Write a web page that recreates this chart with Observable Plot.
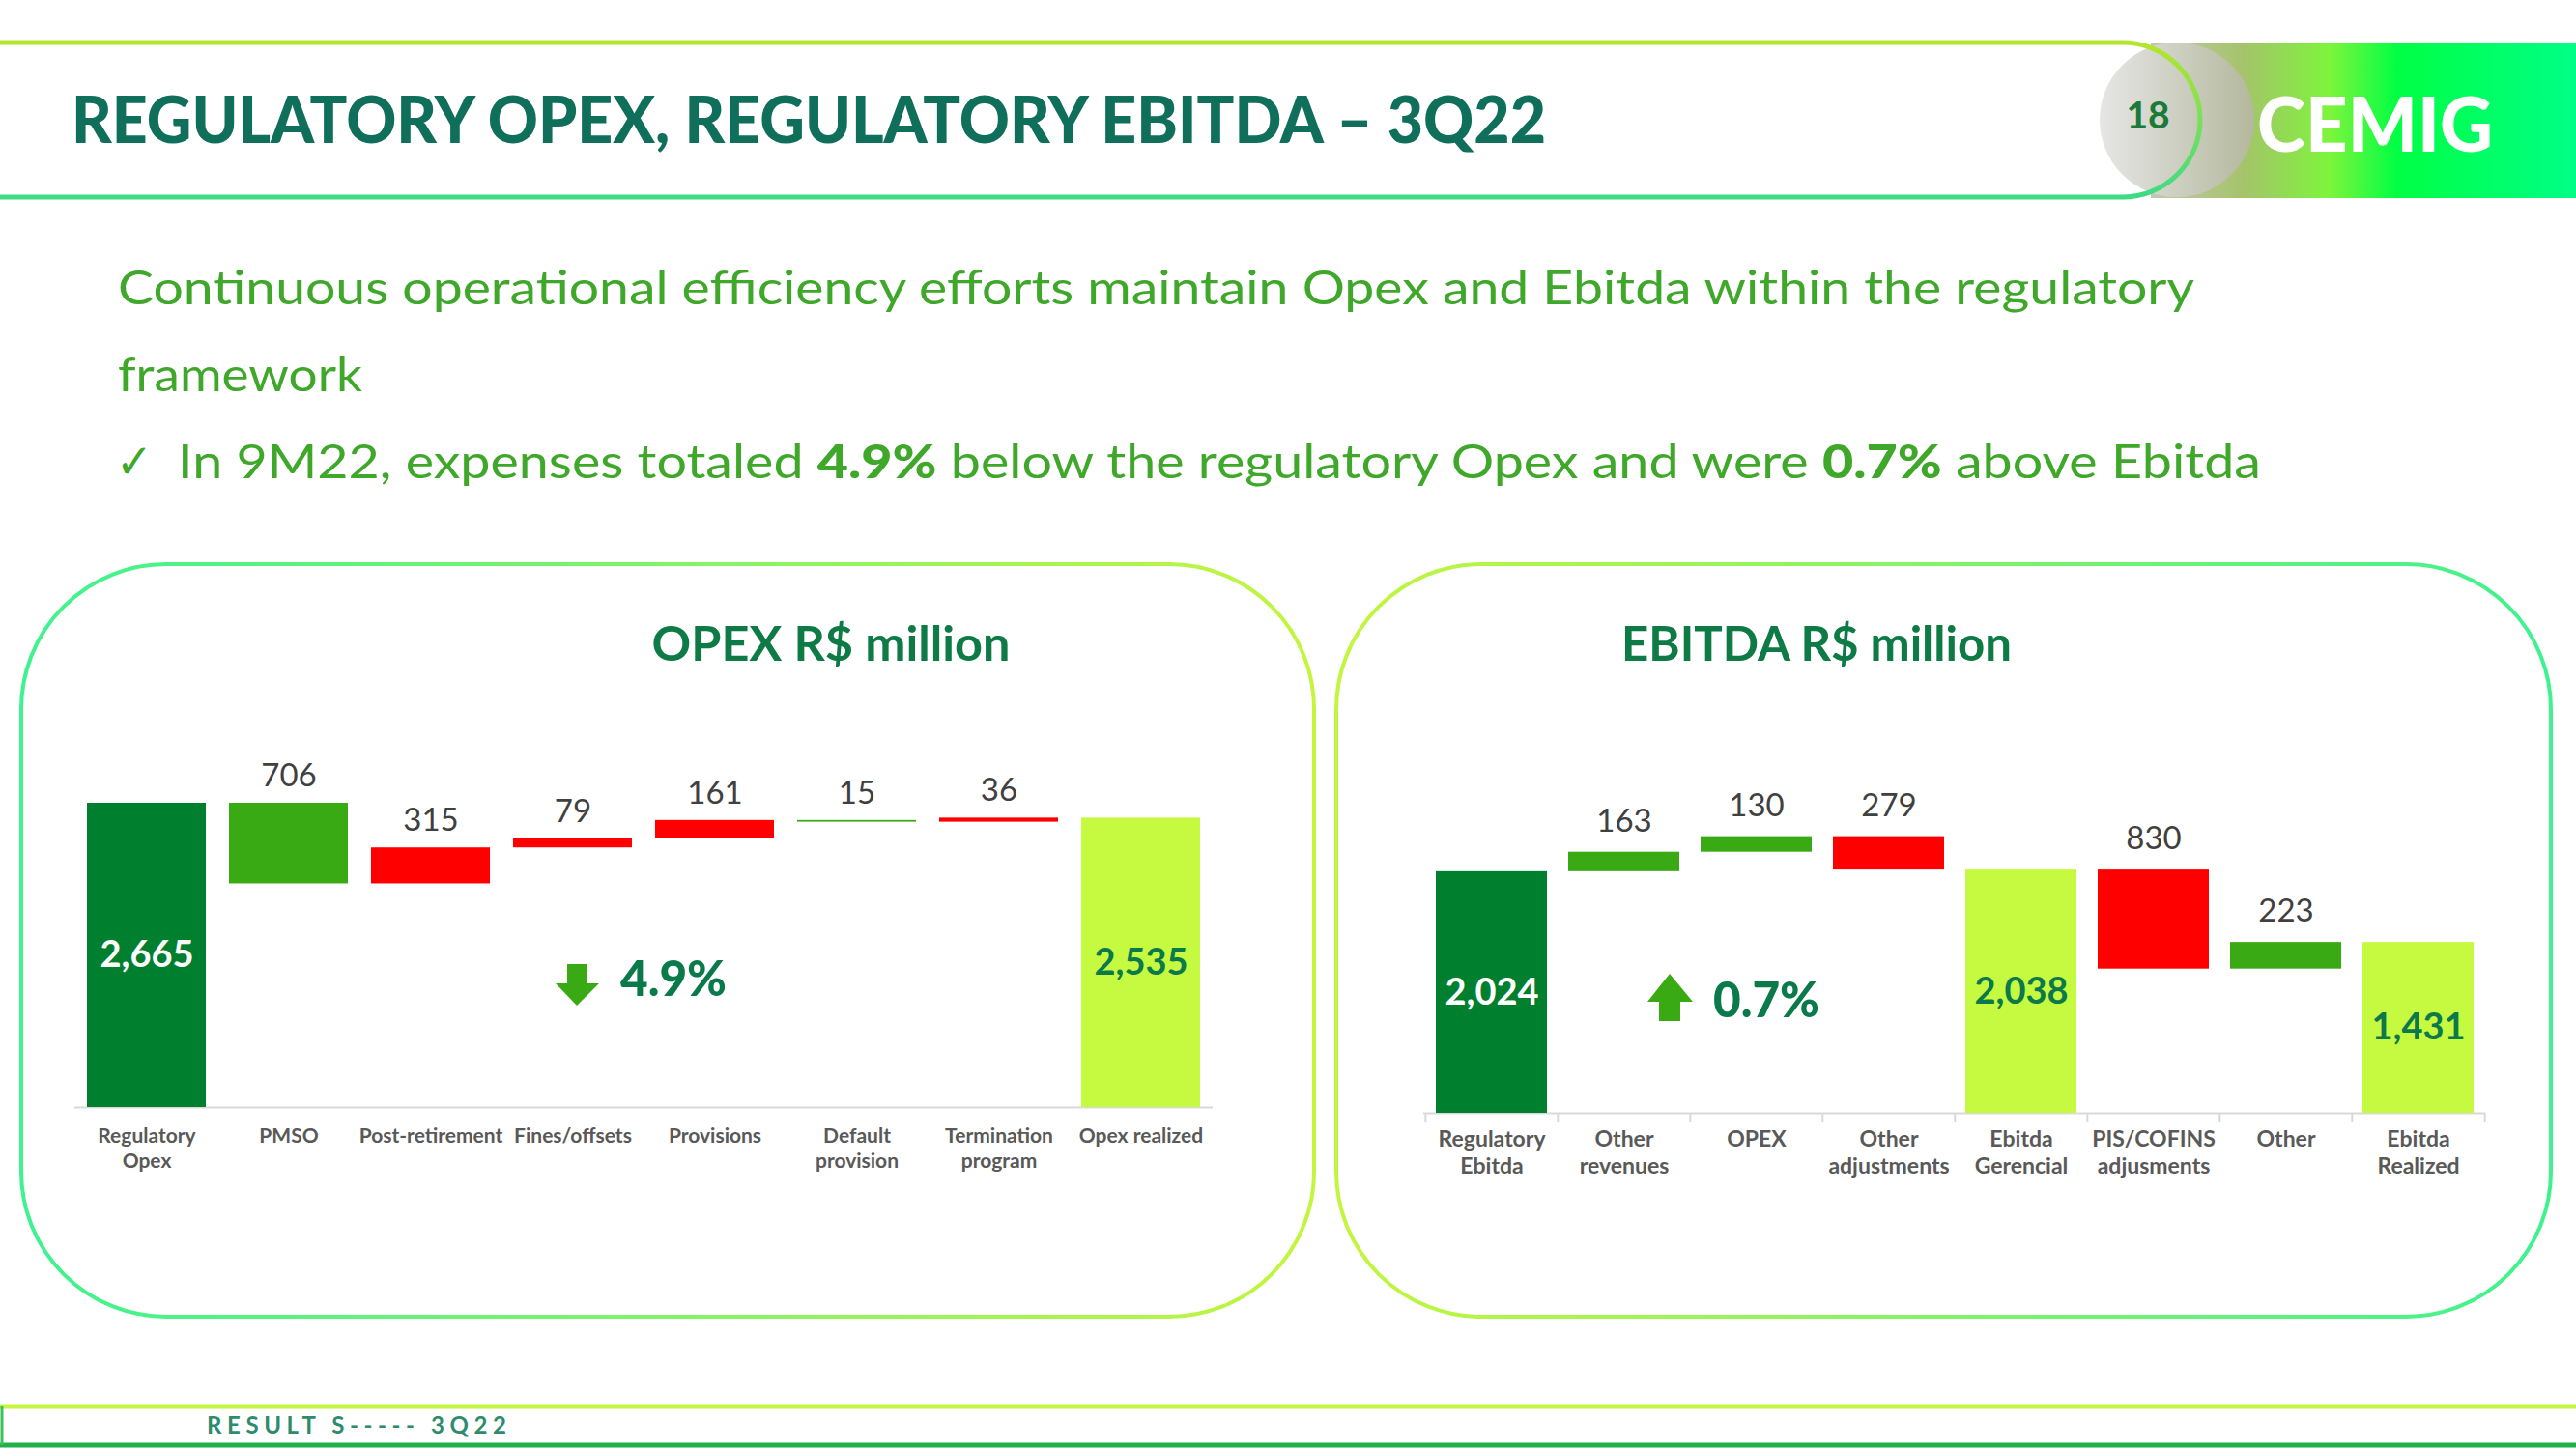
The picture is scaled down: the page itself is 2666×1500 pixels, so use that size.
<!DOCTYPE html>
<html><head><meta charset="utf-8">
<script src="https://cdn.jsdelivr.net/npm/d3@7"></script>
<script src="https://cdn.jsdelivr.net/npm/@observablehq/plot@0.6"></script>
<style>
html,body{margin:0;padding:0;background:#fff;}
#page{position:relative;width:2666px;height:1500px;overflow:hidden;background:#fff;font-family:Lato,sans-serif;}
#deco{position:absolute;left:0;top:0;}
.chart{position:absolute;}
</style></head><body>
<div id="page">
<svg id="deco" width="2666" height="1500" xmlns="http://www.w3.org/2000/svg">
  <defs>
    <linearGradient id="hdrStroke" x1="0" y1="44" x2="0" y2="204" gradientUnits="userSpaceOnUse">
      <stop offset="0" stop-color="#B5E52C"/><stop offset="1" stop-color="#3EDB84"/>
    </linearGradient>
    <linearGradient id="band" x1="0" x2="1" y1="0" y2="0">
      <stop offset="0" stop-color="#c4c6b4"/>
      <stop offset="0.22" stop-color="#a4c46a"/>
      <stop offset="0.42" stop-color="#7ef43c"/>
      <stop offset="0.58" stop-color="#00ff44"/>
      <stop offset="1" stop-color="#00ff86"/>
    </linearGradient>
    <linearGradient id="disc" x1="0" x2="1" y1="0" y2="0">
      <stop offset="0" stop-color="#e6e6e6"/><stop offset="1" stop-color="#b4b89c"/>
    </linearGradient>
    <linearGradient id="panelL" x1="20" x2="1362" y1="0" y2="0" gradientUnits="userSpaceOnUse">
      <stop offset="0" stop-color="#3EF290"/><stop offset="1" stop-color="#C4F53E"/>
    </linearGradient>
    <linearGradient id="panelR" x1="1383" x2="2640" y1="0" y2="0" gradientUnits="userSpaceOnUse">
      <stop offset="0" stop-color="#C4F53E"/><stop offset="1" stop-color="#3EF290"/>
    </linearGradient>
  </defs>
  <!-- header -->
  <rect x="2226" y="44" width="440" height="161" fill="url(#band)"/>
  <path d="M-10,44 H2197 A80,80 0 0 1 2197,204 H-10 Z" fill="#ffffff"/>
  <circle cx="2253" cy="124" r="80" fill="url(#disc)"/>
  <path d="M-10,44 H2197 A80,80 0 0 1 2197,204 H-10" fill="none" stroke="url(#hdrStroke)" stroke-width="5"/>
  <text x="74" y="148" font-family="Lato" font-weight="900" font-size="66" fill="#106F5A" textLength="1526" lengthAdjust="spacingAndGlyphs">REGULATORY OPEX, REGULATORY EBITDA – 3Q22</text>
  <text x="2223" y="133" text-anchor="middle" font-family="Lato" font-weight="bold" font-size="39" fill="#1B7A3A">18</text>
  <text x="2336" y="157" font-family="Lato" font-weight="900" font-size="78" fill="#ffffff" textLength="244" lengthAdjust="spacingAndGlyphs">CEMIG</text>
  <!-- subtitle -->
  <text x="122" y="315" font-family="Lato" font-size="48" fill="#3FA82A" textLength="2149" lengthAdjust="spacingAndGlyphs">Continuous operational efficiency efforts maintain Opex and Ebitda within the regulatory</text>
  <text x="122" y="405" font-family="Lato" font-size="48" fill="#3FA82A" textLength="253" lengthAdjust="spacingAndGlyphs">framework</text>
  <text x="120" y="495" font-family="DejaVu Sans" font-size="50" fill="#3FA82A" textLength="38" lengthAdjust="spacingAndGlyphs">✓</text>
  <text x="184" y="495" font-family="Lato" font-size="48" fill="#3FA82A" textLength="2156" lengthAdjust="spacingAndGlyphs">In 9M22, expenses totaled <tspan font-weight="900" id="pctOpexTxt"></tspan>  below the regulatory Opex and were <tspan font-weight="900" id="pctEbitdaTxt"></tspan> above Ebitda</text>
  <!-- panels -->
  <rect x="22" y="584" width="1338" height="779" rx="150" ry="150" fill="#ffffff" stroke="url(#panelL)" stroke-width="4"/>
  <rect x="1383" y="584" width="1257" height="779" rx="150" ry="150" fill="#ffffff" stroke="url(#panelR)" stroke-width="4"/>
  <text x="860" y="684" text-anchor="middle" font-family="Lato" font-weight="bold" font-size="50" fill="#0E7B47" textLength="371" lengthAdjust="spacingAndGlyphs">OPEX R$ million</text>
  <text x="1880" y="684" text-anchor="middle" font-family="Lato" font-weight="bold" font-size="50" fill="#0E7B47" textLength="404" lengthAdjust="spacingAndGlyphs">EBITDA R$ million</text>
  <!-- annotations -->
  <path d="M587,998 H608 V1018 H620 L597,1041 L575,1018 H587 Z" fill="#3AAA14"/>
  <text id="pctOpex" x="642" y="1031" font-family="Lato" font-weight="900" font-size="52" fill="#0B7A4B" textLength="110" lengthAdjust="spacingAndGlyphs"></text>
  <path d="M1728,1008 L1752,1037 H1739 V1057 H1717 V1037 H1705 Z" fill="#3AAA14"/>
  <text id="pctEbitda" x="1773" y="1053" font-family="Lato" font-weight="900" font-size="52" fill="#0B7A4B" textLength="110" lengthAdjust="spacingAndGlyphs"></text>
  <!-- footer -->
  <rect x="1" y="1456" width="2664" height="40" fill="#ffffff" stroke="none"/>
  <line x1="0" x2="2666" y1="1456" y2="1456" stroke="#C6F542" stroke-width="5"/>
  <line x1="0" x2="2666" y1="1496" y2="1496" stroke="#22B04A" stroke-width="5"/>
  <line x1="2" x2="2" y1="1456" y2="1496" stroke="#3CC05A" stroke-width="3"/>
  <text x="214" y="1484" font-family="Lato" font-weight="bold" font-size="24" fill="#2E8B6E" textLength="310" lengthAdjust="spacing">RESULT S----- 3Q22</text>
</svg>
<div id="c1" class="chart" style="left:0px;top:700px"></div>
<div id="c2" class="chart" style="left:1400px;top:700px"></div>
</div>
<script>
// ---- data ----
const opexCategories = ["Regulatory Opex","PMSO","Post-retirement","Fines/offsets","Provisions","Default provision","Termination program","Opex realized"];
const opexTickLabels = ["Regulatory\nOpex","PMSO","Post-retirement","Fines/offsets","Provisions","Default\nprovision","Termination\nprogram","Opex realized"];
const opexValues = [2665, -706, 315, 79, 161, -15, 36, 2535];
const opexKinds = ["start","delta","delta","delta","delta","delta","delta","total"];

const ebitdaCategories = ["Regulatory Ebitda","Other revenues","OPEX","Other adjustments","Ebitda Gerencial","PIS/COFINS adjusments","Other","Ebitda Realized"];
const ebitdaTickLabels = ["Regulatory\nEbitda","Other\nrevenues","OPEX","Other\nadjustments","Ebitda\nGerencial","PIS/COFINS\nadjusments","Other","Ebitda\nRealized"];
const ebitdaValues = [2024, 163, 130, -279, 2038, -830, 223, 1431];
const ebitdaKinds = ["start","delta","delta","delta","total","delta","delta","total"];

const opexPct = "4.9%";
const ebitdaPct = "0.7%";

// ---- styles ----
const C = {dark:"#00802F", green:"#3AAA14", red:"#FF0000", lime:"#C6FA40", value:"#404040", inner:"#0B7A4B", axisText:"#595959", axisLine:"#D9D9D9"};
const fmt = d3.format(",");

document.getElementById("pctOpex").textContent = opexPct;
document.getElementById("pctEbitda").textContent = ebitdaPct;
document.getElementById("pctOpexTxt").textContent = opexPct;
document.getElementById("pctEbitdaTxt").textContent = ebitdaPct;

function buildRows(cats, labels, values, kinds, incColor, decColor) {
  let level = 0;
  return cats.map((cat, i) => {
    const v = values[i], k = kinds[i];
    let y1, y2, fill;
    if (k === "delta") { y1 = level; y2 = level + v; level = y2; fill = v >= 0 ? incColor : decColor; }
    else { y1 = 0; y2 = v; level = v; fill = k === "start" ? C.dark : C.lime; }
    return {cat, label: labels[i], value: v, kind: k, y1, y2, fill};
  });
}

function waterfall(rows, o) {
  const n = rows.length;
  const step = (o.width - o.ml - o.mr) / n;
  const labelOf = new Map(rows.map(r => [r.cat, r.label]));
  const yb = o.height - o.mb;
  const k = (yb - o.mt) / (o.domain[1] - o.domain[0]);
  const marks = [
    Plot.ruleY([0], {stroke: C.axisLine, strokeWidth: 2}),
    Plot.barY(rows, {x: "cat", y1: "y1", y2: "y2", fill: "fill"}),
    Plot.text(rows.filter(r => r.kind === "delta"), {x: "cat", y: r => Math.max(r.y1, r.y2), text: r => fmt(Math.abs(r.value)), dy: o.labelDy, fontSize: 33, fill: C.value}),
    Plot.text(rows.filter(r => r.kind !== "delta"), {x: "cat", y: r => r.y2 / 2, text: r => fmt(r.value), fontSize: 38, fontWeight: "bold", fill: r => r.kind === "start" ? "#FFFFFF" : C.inner}),
    Plot.axisX({tickSize: 0, tickPadding: o.tickPadding, tickFormat: d => labelOf.get(d), fontSize: o.axisFont, fontWeight: "bold", lineHeight: 1.2, label: null})
  ];
  if (o.boundaryTicks) {
    marks.push(Plot.ruleX(rows, {x: "cat", y1: 0, y2: -o.tickLen / k, dx: -step / 2, stroke: C.axisLine, strokeWidth: 2}));
    marks.push(Plot.ruleX(rows.slice(-1), {x: "cat", y1: 0, y2: -o.tickLen / k, dx: step / 2, stroke: C.axisLine, strokeWidth: 2}));
  }
  return Plot.plot({
    width: o.width, height: o.height,
    marginLeft: o.ml, marginRight: o.mr, marginTop: o.mt, marginBottom: o.mb,
    x: {domain: rows.map(r => r.cat), paddingInner: o.pad, paddingOuter: o.pad / 2, axis: null, label: null},
    y: {domain: o.domain, axis: null},
    color: {type: "identity"},
    style: {fontFamily: "Lato, sans-serif", color: C.axisText, background: "transparent", overflow: "visible"},
    marks
  });
}

const opexRows = buildRows(opexCategories, opexTickLabels, opexValues, opexKinds, C.red, C.green);
const ebitdaRows = buildRows(ebitdaCategories, ebitdaTickLabels, ebitdaValues, ebitdaKinds, C.green, C.red);

document.getElementById("c1").append(waterfall(opexRows, {
  width: 1300, height: 540, ml: 77, mr: 45, mt: 91.4, mb: 94, domain: [0, 3000],
  pad: 0.165, labelDy: -28, tickPadding: 19, axisFont: 21, boundaryTicks: false
}));
document.getElementById("c2").append(waterfall(ebitdaRows, {
  width: 1240, height: 540, ml: 73, mr: 68, mt: 81.2, mb: 88, domain: [0, 3000],
  pad: 0.163, labelDy: -32, tickPadding: 15, axisFont: 23, boundaryTicks: true, tickLen: 9
}));
</script>
</body></html>
